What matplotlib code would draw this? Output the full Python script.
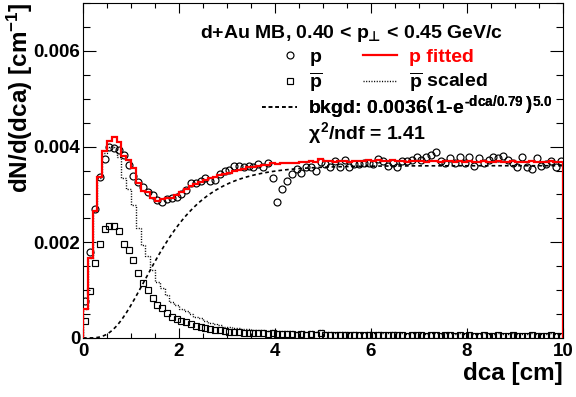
import numpy as np
import matplotlib
matplotlib.use("Agg")
import matplotlib.pyplot as plt
from matplotlib.lines import Line2D
from matplotlib.ticker import MultipleLocator

plt.rcParams['font.family'] = ['Liberation Sans', 'DejaVu Sans']
plt.rcParams['font.weight'] = 'bold'
plt.rcParams['mathtext.fontset'] = 'custom'
plt.rcParams['mathtext.rm'] = 'Liberation Sans:bold'
plt.rcParams['mathtext.it'] = 'Liberation Sans:bold'
plt.rcParams['mathtext.bf'] = 'Liberation Sans:bold'
plt.rcParams['mathtext.sf'] = 'DejaVu Sans:bold'

# 100 bins of 0.1 cm from 0 to 10 cm
bin_edges = np.linspace(0, 10, 101)
bin_centers = bin_edges[:-1] + 0.05

# protons, dN/d(dca)
p_counts = [
    0.00077, 0.00179, 0.00270, 0.00336, 0.00374, 0.00399, 0.00397, 0.00392, 0.00383, 0.00362,
    0.00338, 0.00327, 0.00315, 0.00306, 0.00298, 0.00288, 0.00285, 0.00291, 0.00292, 0.00294,
    0.00301, 0.00310, 0.00324, 0.00323, 0.00329, 0.00334, 0.00329, 0.00330, 0.00343, 0.00350,
    0.00351, 0.00359, 0.00360, 0.00358, 0.00360, 0.00357, 0.00363, 0.00357, 0.00366, 0.00335,
    0.00284, 0.00312, 0.00329, 0.00343, 0.00353, 0.00345, 0.00357, 0.00358, 0.00348, 0.00367,
    0.00364, 0.00358, 0.00369, 0.00357, 0.00371, 0.00358, 0.00363, 0.00363, 0.00365, 0.00365,
    0.00363, 0.00374, 0.00369, 0.00360, 0.00365, 0.00358, 0.00369, 0.00369, 0.00372, 0.00378,
    0.00372, 0.00378, 0.00383, 0.00388, 0.00369, 0.00365, 0.00376, 0.00365, 0.00378, 0.00365,
    0.00378, 0.00360, 0.00376, 0.00365, 0.00372, 0.00378, 0.00376, 0.00381, 0.00371, 0.00365,
    0.00358, 0.00378, 0.00358, 0.00353, 0.00376, 0.00360, 0.00363, 0.00369, 0.00358, 0.00369,
]

# antiprotons
pbar_counts = [
    0.00036, 0.00098, 0.00156, 0.00197, 0.00227, 0.00235, 0.00235, 0.00223, 0.00197, 0.00183,
    0.00164, 0.00135, 0.00114, 0.00101, 0.00083, 0.00069, 0.00062, 0.00053, 0.00044, 0.00040,
    0.00036, 0.00033, 0.00030, 0.00026, 0.00024, 0.00021, 0.00019, 0.00017, 0.00016, 0.00014,
    0.00013, 0.00012, 0.00012, 0.00011, 0.00011, 0.00010, 0.00010, 0.00010, 0.00009, 0.00010,
    0.00008, 0.00009, 0.00008, 0.00008, 0.00007, 0.00008, 0.00007, 0.00008, 0.00007, 0.00010,
    0.00007, 0.00007, 0.00006, 0.00007, 0.00007, 0.00006, 0.00007, 0.00006, 0.00006, 0.00007,
    0.00006, 0.00007, 0.00006, 0.00006, 0.00007, 0.00006, 0.00006, 0.00005, 0.00006, 0.00006,
    0.00006, 0.00005, 0.00006, 0.00006, 0.00005, 0.00006, 0.00006, 0.00005, 0.00006, 0.00005,
    0.00006, 0.00005, 0.00005, 0.00006, 0.00005, 0.00005, 0.00006, 0.00005, 0.00005, 0.00006,
    0.00005, 0.00005, 0.00005, 0.00006, 0.00005, 0.00005, 0.00005, 0.00006, 0.00005, 0.00005,
]

# fit parameters
pbar_scale = 1.70
bkgd_amp = 0.0036
bkgd_tau = 0.79
bkgd_pow = 5.0
chi2_ndf = 1.41


def bkgd(x):
    return bkgd_amp * (1 - np.exp(-x / bkgd_tau)) ** bkgd_pow


pbar_scaled = pbar_scale * np.array(pbar_counts)
p_fitted = bkgd(bin_centers) + pbar_scaled

fig = plt.figure(figsize=(5.76, 3.97), dpi=100)
ax = fig.add_axes([83 / 576, 59 / 397, 480 / 576, 335 / 397])

# background curve
xs = np.linspace(0, 10, 400)
ax.plot(xs, bkgd(xs), color='black', lw=1.2, linestyle=(0, (2.2, 1.8)), zorder=2)
ax.stairs(pbar_scaled, bin_edges, color='black', lw=1.0, linestyle=(0, (0.8, 1.1)), zorder=2)
ax.plot(bin_centers, pbar_counts, 's', ms=4.3, mfc='none', mec='black', mew=0.85, zorder=3)
ax.plot(bin_centers, p_counts, 'o', ms=5.0, mfc='none', mec='black', mew=0.85, zorder=3)
ax.stairs(p_fitted, bin_edges, color='red', lw=1.6, zorder=4)

ax.set_xlim(0, 10)
ax.set_ylim(0, 0.007)
ax.set_xticks([0, 2, 4, 6, 8, 10])
ax.set_yticks([0, 0.002, 0.004, 0.006])
ax.set_yticklabels(['0', '0.002', '0.004', '0.006'])
ax.xaxis.set_minor_locator(MultipleLocator(0.5))
ax.yaxis.set_minor_locator(MultipleLocator(0.0005))
ax.tick_params(axis='both', which='both', direction='in', top=True, right=True, width=0.8)
ax.tick_params(axis='x', which='major', length=7.5, pad=3.5, labelsize=13.5)
ax.tick_params(axis='x', which='minor', length=3.8)
ax.tick_params(axis='y', which='major', length=9.5, pad=2, labelsize=13.5)
ax.tick_params(axis='y', which='minor', length=5)
for s in ax.spines.values():
    s.set_linewidth(0.8)

fig.text(20 / 576, 1 - 2 / 397, 'dN/d(dca) [cm$^{-1}$]', rotation=90,
         ha='center', va='top', fontsize=17.5, fontweight='bold')
fig.text(563 / 576, 1 - 362 / 397, 'dca [cm]', ha='right', va='top',
         fontsize=17.5, fontweight='bold')

# legend block
ax.text(0.560, 0.910, r'd+Au MB, 0.40 < $p_{\mathsf{⊥}}$ < 0.45 GeV/c',
        ha='center', va='center', fontsize=14, fontweight='bold', transform=ax.transAxes)

leg_font = {'family': 'Liberation Sans', 'weight': 'bold', 'size': 14}


def add_entry(handle, label, x, y, hlen, pad, color='black'):
    leg = ax.legend([handle], [label], loc='center left', bbox_to_anchor=(x, y),
                    frameon=False, borderpad=0, borderaxespad=0, handlelength=hlen,
                    handletextpad=pad, numpoints=1, prop=leg_font, labelcolor=color)
    ax.add_artist(leg)


add_entry(Line2D([], [], marker='o', ls='none', ms=5.0, mfc='none', mec='black', mew=0.85),
          'p', 0.411, 0.839, 1.0, 0.50)
add_entry(Line2D([], [], marker='s', ls='none', ms=4.3, mfc='none', mec='black', mew=0.85),
          r'$\overline{p}$', 0.411, 0.764, 1.0, 0.50)
add_entry(Line2D([], [], color='red', lw=1.6), 'p fitted', 0.583, 0.839, 1.75, 0.62, 'red')
add_entry(Line2D([], [], color='black', lw=1.0, ls=(0, (0.8, 1.1))),
          r'$\overline{p}$ scaled', 0.583, 0.764, 1.75, 0.62)
add_entry(Line2D([], [], color='black', lw=1.2, ls=(0, (2.2, 1.8))),
          r'bkgd: 0.0036$\left(\,1\text{-}e^{\text{-}dca/0.79}\,\right)^{5.0}$',
          0.373, 0.690, 1.8, 0.57)

ax.text(0.469, 0.612, r'$\chi^2$/ndf = %.2f' % chi2_ndf, ha='left', va='center',
        fontsize=14, fontweight='bold', transform=ax.transAxes)

fig.savefig('out.png', dpi=100)
